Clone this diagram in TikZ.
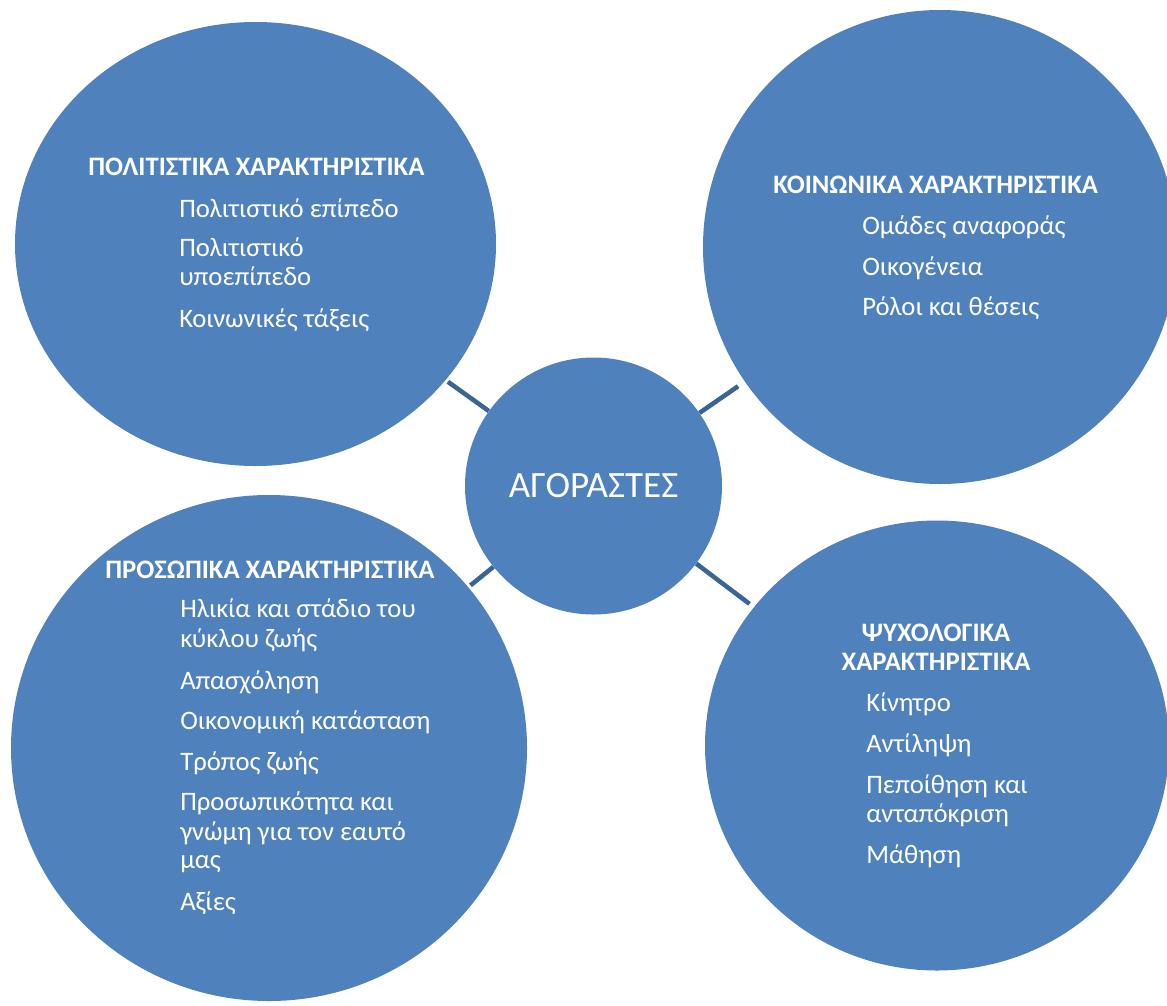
\documentclass[tikz,border=0pt]{standalone}
\usepackage{fontspec}
\setmainfont{Carlito}
\usetikzlibrary{shapes.geometric}
\definecolor{bubblefill}{HTML}{4F81BD}
\definecolor{linkcol}{HTML}{3A6495}
\begin{document}
\begin{tikzpicture}[x=0.75pt,y=-0.75pt,
  bubble/.style={ellipse, fill=bubblefill, draw=none, inner sep=0pt, text=white},
  link/.style={draw=linkcol, line width=3.4pt},
  head/.style={text=white, font=\fontsize{20}{24}\selectfont\bfseries, inner sep=0pt, anchor=base west},
  headc/.style={head, anchor=base},
  item/.style={text=white, font=\fontsize{20}{24}\selectfont, inner sep=0pt, anchor=base west}]
\fill[white] (0,0) rectangle (1167,1006);
\useasboundingbox (0,0) rectangle (1167,1006);
\clip (0,0) rectangle (1167,1006);

% bubbles
\node[bubble, minimum width=360.75pt, minimum height=333pt] (tl) at (255.5,244) {};
\node[bubble, minimum width=355.5pt, minimum height=355.5pt] (tr) at (940,247) {};
\node[bubble, minimum width=387pt, minimum height=379.5pt] (bl) at (269,748) {};
\node[bubble, minimum width=348pt, minimum height=337.5pt] (br) at (937,745.5) {};
\node[bubble, minimum width=192.75pt, minimum height=192.75pt,
      font=\fontsize{27.8}{33}\selectfont] (c) at (593.5,486) {ΑΓΟΡΑΣΤΕΣ};

% connectors
\draw[link, shorten <=2pt] (tl) -- (c);
\draw[link, shorten <=6pt] (tr) -- (c);
\draw[link, shorten <=2pt] (bl) -- (c);
\draw[link, shorten <=4pt] (br) -- (c);

% top-left texts
\node[head] (tlh) at (88,175) {ΠΟΛΙΤΙΣΤΙΚΑ ΧΑΡΑΚΤΗΡΙΣΤΙΚΑ};
\foreach \n/\y/\t in {1/217/Πολιτιστικό επίπεδο, 2/256/Πολιτιστικό, 3/285/υποεπίπεδο, 4/327/Κοινωνικές τάξεις}
  \node[item] (tli\n) at (179,\y) {\t};

% top-right texts
\node[head] (trh) at (773,193) {ΚΟΙΝΩΝΙΚΑ ΧΑΡΑΚΤΗΡΙΣΤΙΚΑ};
\foreach \n/\y/\t in {1/234/Ομάδες αναφοράς, 2/275/Οικογένεια, 3/315/Ρόλοι και θέσεις}
  \node[item] (tri\n) at (862,\y) {\t};

% bottom-left texts
\node[head] (blh) at (105,578) {ΠΡΟΣΩΠΙΚΑ ΧΑΡΑΚΤΗΡΙΣΤΙΚΑ};
\foreach \n/\y/\t in {1/617/Ηλικία και στάδιο του, 2/647/κύκλου ζωής, 3/689/Απασχόληση,
  4/729/Οικονομική κατάσταση, 5/770/Τρόπος ζωής, 6/810/Προσωπικότητα και,
  7/840/γνώμη για τον εαυτό, 8/868/μας, 9/910/Αξίες}
  \node[item] (bli\n) at (180,\y) {\t};

% bottom-right texts
\node[headc] (brh1) at (936,641) {ΨΥΧΟΛΟΓΙΚΑ};
\node[headc] (brh2) at (936,670) {ΧΑΡΑΚΤΗΡΙΣΤΙΚΑ};
\foreach \n/\y/\t in {1/711/Κίνητρο, 2/752/Αντίληψη, 3/793/Πεποίθηση και, 4/822/ανταπόκριση, 5/863/Μάθηση}
  \node[item] (bri\n) at (866,\y) {\t};
\end{tikzpicture}
\end{document}
